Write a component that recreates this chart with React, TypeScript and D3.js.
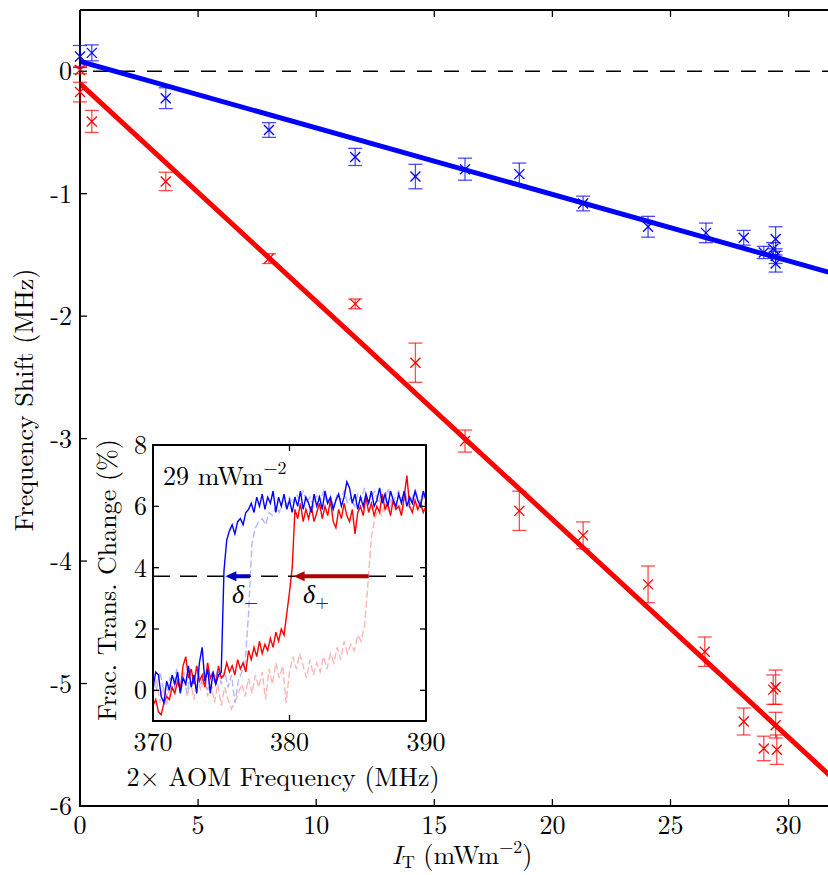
import React from "react";
import * as d3 from "d3";

// ---------- Main plot data ----------
const xTicks = [0, 5, 10, 15, 20, 25, 30];
const yTicks = [0, -1, -2, -3, -4, -5, -6];

const blueX = [0, 0.5, 3.63, 8.0, 11.65, 14.2, 16.3, 18.6, 21.3, 24.05, 26.5, 28.1, 28.95, 29.35, 29.45, 29.45, 29.45];
const blueY = [0.12, 0.15, -0.22, -0.48, -0.7, -0.86, -0.8, -0.84, -1.08, -1.27, -1.32, -1.36, -1.48, -1.45, -1.37, -1.51, -1.57];
const blueErr = [0.09, 0.065, 0.085, 0.06, 0.07, 0.1, 0.09, 0.09, 0.06, 0.085, 0.08, 0.06, 0.05, 0.05, 0.1, 0.06, 0.07];

const redX = [0, 0, 0.5, 3.63, 8.0, 11.65, 14.2, 16.3, 18.6, 21.3, 24.05, 26.45, 28.1, 28.95, 29.35, 29.45, 29.45, 29.5];
const redY = [0.01, -0.17, -0.41, -0.9, -1.53, -1.9, -2.38, -3.02, -3.59, -3.79, -4.19, -4.74, -5.31, -5.53, -5.05, -5.03, -5.34, -5.54];
const redErr = [0.03, 0.08, 0.09, 0.075, 0.04, 0.04, 0.16, 0.09, 0.16, 0.11, 0.15, 0.12, 0.11, 0.1, 0.12, 0.14, 0.105, 0.12];

const blueFit = { intercept: 0.08, slope: -0.0543 };
const redFit = { intercept: -0.1, slope: -0.178 };

// ---------- Inset data ----------
const insetXTicks = [370, 380, 390];
const insetYTicks = [0, 2, 4, 6, 8];
const insetThreshold = 3.72;

const solidStart = 370;
const solidStep = 0.2;
const blueTrace = [
  0.1, 0.6, 0.5, -0.2, -0.4, 0.3, 0.0, 0.5, 0.2, 0.6,
  -0.1, 0.4, 0.2, 0.8, 0.1, 0.5, -0.1, 0.9, 1.4, 0.3,
  0.7, -0.1, 0.6, 0.2, 0.5, 0.6, 3.9, 4.9, 5.2, 5.4,
  5.1, 5.5, 5.6, 5.4, 5.8, 5.9, 6.1, 5.8, 6.3, 6.0,
  6.4, 5.9, 6.3, 6.1, 6.5, 5.8, 6.3, 6.0, 6.4, 5.9,
  6.2, 5.8, 6.3, 6.0, 6.5, 5.9, 6.3, 6.1, 5.8, 6.4,
  6.0, 6.3, 5.9, 6.5, 6.1, 6.3, 5.9, 6.2, 6.4, 6.0,
  6.3, 6.8, 6.6, 6.1, 6.4, 5.9, 6.3, 6.0, 6.4, 6.1,
  6.5, 6.0, 6.2, 6.6, 6.1, 6.4, 6.0, 6.5, 6.2, 6.0,
  6.4, 6.1, 6.5, 6.0, 6.3, 6.1, 6.5, 6.2, 6.0, 6.5,
  6.2,
];
const redTrace = [
  -0.5, -0.3, -0.7, -0.8, -0.4, -0.2, -0.3, 0.1, -0.1, 0.3,
  0.0, 0.8, 1.1, 0.4, 0.7, 0.2, 0.8, 0.3, 0.5, 0.1,
  0.9, 0.4, 0.6, 0.2, 0.8, 0.4, 0.5, 0.9, 0.6, 0.8,
  0.5, 1.0, 0.7, 0.9, 0.6, 1.3, 1.0, 1.4, 1.1, 1.6,
  1.2, 1.5, 1.3, 1.7, 1.4, 1.9, 1.6, 2.0, 1.8, 2.5,
  3.2, 4.0, 5.9, 5.6, 6.1, 5.5, 5.9, 5.6, 6.0, 5.5,
  5.8, 6.1, 5.6, 6.0, 5.7, 6.2, 5.5, 5.3, 5.9, 5.6,
  6.1, 5.7, 5.5, 5.9, 5.1, 5.8, 6.0, 5.7, 6.3, 5.8,
  6.1, 5.7, 6.0, 5.8, 6.4, 5.9, 6.1, 5.7, 6.2, 5.9,
  6.0, 5.7, 6.3, 7.0, 6.0, 5.8, 6.2, 5.9, 6.1, 5.8,
  6.0,
];

const fadedStep = 0.25;
const blueFaded = [
  0.3, 0.0, 0.6, 0.1, -0.2, 0.4, 0.2, 0.7, 0.1, 0.5,
  -0.1, 0.6, 0.3, 0.8, 0.2, 0.6, 0.0, 0.5, 0.3, 0.7,
  0.2, 0.6, 0.1, 0.5, -0.4, 0.3, 0.6, 0.9, 2.5, 4.8,
  5.3, 5.5, 5.6, 5.4, 5.8, 5.7, 6.0, 5.8, 6.2, 6.0,
  6.3, 6.1, 6.4, 6.2, 6.5, 6.1, 6.3, 6.0, 6.4, 6.2,
  6.5, 6.1, 6.3, 6.0, 6.4, 6.2, 6.5, 6.1, 6.3, 6.0,
  6.4, 6.2, 6.6, 6.1, 6.3, 6.5, 6.1, 6.4, 6.2, 6.6,
  6.0, 6.3, 6.5, 6.2, 6.4, 6.0, 6.3, 6.5, 6.1, 6.4,
  6.2,
];
const redFaded = [
  -0.2, 0.4, -0.4, 0.1, -0.5, 0.2, -0.1, 0.5, 0.0, 0.6,
  -0.2, 0.3, -0.3, 0.4, 0.0, 0.5, -0.2, 0.3, -0.4, 0.2,
  -0.5, 0.1, -0.3, -0.6, -0.4, -0.1, 0.2, -0.2, 0.4, -0.1,
  0.5, 0.1, 0.6, -0.3, 0.7, 0.2, 0.9, 0.4, 0.8, -0.4,
  0.6, 1.1, 0.7, 1.2, 0.8, 0.4, 1.0, 0.5, 0.9, 0.6,
  1.1, 0.7, 1.2, 0.9, 1.4, 1.0, 1.6, 1.2, 1.5, 1.3,
  1.8, 1.6, 2.1, 3.5, 5.0, 5.6, 5.9, 5.7, 6.1, 5.8,
  6.2, 5.9, 6.1, 5.8, 6.3, 6.0, 6.2, 5.9, 6.1, 6.3,
  6.0,
];

// arrows: [from, to] in MHz
const blueShift = [377.1, 375.3];
const redShift = [385.8, 380.3];

const FS = { fontFamily: '"Latin Modern Roman", "Liberation Serif", serif' };

export default function App() {
  const W = 828, H = 875;
  const x = d3.scaleLinear().domain([0, 32]).range([80, 80 + 32 * 23.62]);
  const y = d3.scaleLinear().domain([-6, 0.5]).range([806, 10]);

  const ix = d3.scaleLinear().domain([370, 390]).range([153, 426]);
  const iy = d3.scaleLinear().domain([-1, 8]).range([721, 445]);

  const fitLine = (f: { intercept: number; slope: number }) =>
    d3.line<number>().x((d) => x(d)).y((d) => y(f.intercept + f.slope * d))([0, 32]) as string;

  const traceLine = (vals: number[], start: number, step: number) =>
    d3
      .line<number>()
      .x((_, i) => ix(start + i * step))
      .y((d) => iy(d))(vals) as string;

  const markers = (xs: number[], ys: number[], es: number[], color: string) =>
    xs.map((xv, i) => {
      const cx = x(xv), cy = y(ys[i]);
      const y1 = y(ys[i] + es[i]), y2 = y(ys[i] - es[i]);
      const c = 7, m = 5;
      return (
        <g key={color + i}>
          <g stroke={color} strokeOpacity={0.7} strokeWidth={1.3}>
            <line x1={cx} x2={cx} y1={y1} y2={y2} />
            <line x1={cx - c} x2={cx + c} y1={y1} y2={y1} />
            <line x1={cx - c} x2={cx + c} y1={y2} y2={y2} />
          </g>
          <g stroke={color} strokeWidth={1.3}>
            <line x1={cx - m} x2={cx + m} y1={cy - m} y2={cy + m} />
            <line x1={cx - m} x2={cx + m} y1={cy + m} y2={cy - m} />
          </g>
        </g>
      );
    });

  const arrow = (pair: number[], color: string) => {
    const x1 = ix(pair[0]), x2 = ix(pair[1]);
    const yy = iy(insetThreshold);
    const hl = 11, hw = 5;
    return (
      <g>
        <line x1={x1} x2={x2 + hl - 1} y1={yy} y2={yy} stroke={color} strokeWidth={4} />
        <polygon points={`${x2},${yy} ${x2 + hl},${yy - hw} ${x2 + hl},${yy + hw}`} fill={color} />
      </g>
    );
  };

  const plotRight = x(32);

  return (
    <svg width={W} height={H} style={{ position: "absolute", left: 0, top: 0, background: "#fff" }}>
      <rect width={W} height={H} fill="#fff" />
      <defs>
        <clipPath id="mainClip">
          <rect x={80} y={10} width={plotRight - 80} height={796} />
        </clipPath>
        <clipPath id="insetClip">
          <rect x={153} y={445} width={273} height={276} />
        </clipPath>
      </defs>

      {/* zero dashed line */}
      <line x1={x(0)} x2={plotRight} y1={y(0)} y2={y(0)} stroke="#000" strokeWidth={1.3} strokeDasharray="15,12" strokeDashoffset={-13} />

      <g clipPath="url(#mainClip)">
        <path d={fitLine(redFit)} stroke="#ff0000" strokeWidth={5} fill="none" />
        <path d={fitLine(blueFit)} stroke="#0000ff" strokeWidth={5} fill="none" />
      </g>

      {/* main frame */}
      <g stroke="#000" strokeWidth={2}>
        <line x1={80} x2={80} y1={10} y2={807} />
        <line x1={79} x2={plotRight} y1={806} y2={806} />
        <line x1={80} x2={plotRight} y1={10} y2={10} />
      </g>
      {markers(redX, redY, redErr, "#ff0000")}
      {markers(blueX, blueY, blueErr, "#0000ff")}
      <g stroke="#000" strokeWidth={1.3}>
        {xTicks.map((t) => (
          <g key={"xt" + t}>
            <line x1={x(t)} x2={x(t)} y1={806} y2={799} />
            <line x1={x(t)} x2={x(t)} y1={10} y2={17} />
          </g>
        ))}
        {yTicks.map((t) => (
          <line key={"yt" + t} x1={80} x2={87} y1={y(t)} y2={y(t)} />
        ))}
      </g>
      <g fontSize={26} fill="#000">
        {xTicks.map((t) => (
          <text key={"xl" + t} style={FS} x={x(t)} y={834} textAnchor="middle">{t}</text>
        ))}
        {yTicks.map((t) => (
          <text key={"yl" + t} style={FS} x={72} y={y(t) + 9} textAnchor="end">{t === 0 ? "0" : "-" + Math.abs(t)}</text>
        ))}
      </g>
      <text style={FS} fontSize={26} x={462} y={864} textAnchor="middle">
        <tspan fontStyle="italic">I</tspan>
        <tspan fontSize={18} dy={4}>T</tspan>
        <tspan dy={-4}> (mWm</tspan>
        <tspan fontSize={18} dy={-11}>−2</tspan>
        <tspan dy={11}>)</tspan>
      </text>
      <text style={FS} fontSize={26} transform="translate(33,400) rotate(-90)" textAnchor="middle">Frequency Shift (MHz)</text>

      {/* ---------- Inset ---------- */}
      <rect x={153} y={445} width={273} height={276} fill="#fff" />
      <g clipPath="url(#insetClip)" fill="none">
        <path d={traceLine(redFaded, solidStart, fadedStep)} stroke="#ffb4b4" strokeWidth={1.4} strokeDasharray="7,3" />
        <path d={traceLine(blueFaded, solidStart, fadedStep)} stroke="#b4b4ff" strokeWidth={1.4} strokeDasharray="7,3" />
        <path d={traceLine(redTrace, solidStart, solidStep)} stroke="#ff0000" strokeWidth={1.4} />
        <path d={traceLine(blueTrace, solidStart, solidStep)} stroke="#0000ff" strokeWidth={1.4} />
      </g>
      <line x1={153} x2={426} y1={iy(insetThreshold)} y2={iy(insetThreshold)} stroke="#000" strokeWidth={1.3} strokeDasharray="17,10" />
      {arrow(blueShift, "#0000c0")}
      {arrow(redShift, "#b00000")}
      <rect x={153} y={445} width={273} height={276} fill="none" stroke="#000" strokeWidth={2} />
      <g stroke="#000" strokeWidth={1.3}>
        {insetXTicks.map((t) => (
          <g key={"ixt" + t}>
            <line x1={ix(t)} x2={ix(t)} y1={721} y2={715} />
            <line x1={ix(t)} x2={ix(t)} y1={445} y2={451} />
          </g>
        ))}
        {insetYTicks.map((t) => (
          <g key={"iyt" + t}>
            <line x1={153} x2={159} y1={iy(t)} y2={iy(t)} />
            <line x1={426} x2={420} y1={iy(t)} y2={iy(t)} />
          </g>
        ))}
      </g>
      <g fontSize={26} fill="#000">
        {insetXTicks.map((t) => (
          <text key={"ixl" + t} style={FS} x={ix(t)} y={751} textAnchor="middle">{t}</text>
        ))}
        {insetYTicks.map((t) => (
          <text key={"iyl" + t} style={FS} x={147} y={iy(t) + 9} textAnchor="end">{t}</text>
        ))}
      </g>
      <text style={FS} fontSize={26} x={283} y={786} textAnchor="middle">2× AOM Frequency (MHz)</text>
      <text style={FS} fontSize={26} transform="translate(116,580) rotate(-90)" textAnchor="middle">Frac. Trans. Change (%)</text>
      <text style={FS} fontSize={26} x={163} y={485}>
        29 mWm<tspan fontSize={18} dy={-11}>−2</tspan>
      </text>
      <text style={FS} fontSize={26} x={232} y={603}>
        <tspan fontStyle="italic">δ</tspan>
        <tspan fontSize={18} dy={5}>−</tspan>
      </text>
      <text style={FS} fontSize={26} x={303} y={603}>
        <tspan fontStyle="italic">δ</tspan>
        <tspan fontSize={18} dy={5}>+</tspan>
      </text>
    </svg>
  );
}
